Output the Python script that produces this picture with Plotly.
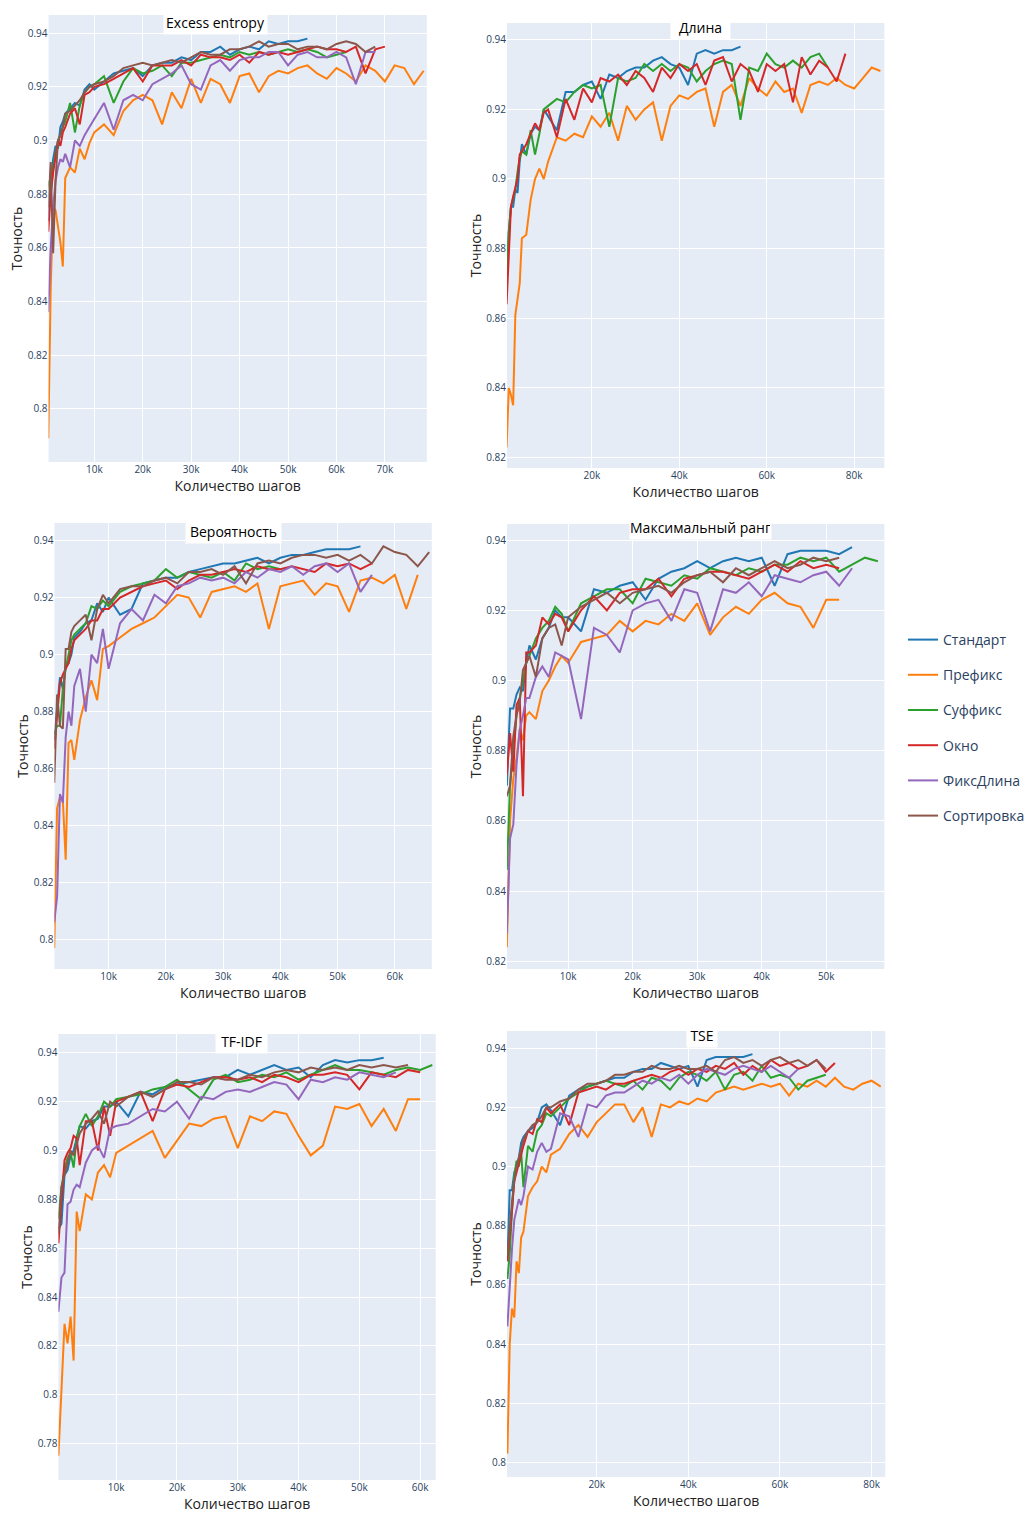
import plotly.graph_objects as go

W, H = 1030, 1515

STEPS = [500, 1000, 1500, 2000, 2500, 3000, 3500, 4000, 5000, 6000, 7000, 8000, 9000, 10000,
         12000, 14000, 16000, 18000, 20000, 22000, 24000, 26000, 28000, 30000,
         32000, 34000, 36000, 38000, 40000, 42000, 44000, 46000, 48000, 50000,
         52000, 54000, 56000, 58000, 60000, 62000, 64000, 66000, 68000, 70000,
         72000, 74000, 76000, 78000, 80000, 82000, 84000, 86000]

SERIES = ["Стандарт", "Префикс", "Суффикс", "Окно", "ФиксДлина", "Сортировка"]
COLORS = ["#1f77b4", "#ff7f0e", "#2ca02c", "#d62728", "#9467bd", "#8c564b"]

PANEL_TITLES = ["Excess entropy", "Длина", "Вероятность", "Максимальный ранг", "TF-IDF", "TSE"]
X_TITLE = "Количество шагов"
Y_TITLE = "Точность"

# ---------------- Excess entropy ----------------
EE_STD = [0.870, 0.885, 0.893, 0.898, 0.897, 0.905, 0.907, 0.910, 0.912, 0.914, 0.913, 0.919, 0.921, 0.919,
          0.922, 0.925, 0.926, 0.927, 0.924, 0.928, 0.929, 0.929, 0.931, 0.930, 0.933, 0.933, 0.935, 0.932,
          0.934, 0.935, 0.934, 0.937, 0.936, 0.937, 0.937, 0.938]
EE_PRE = [0.789, 0.845, 0.875, 0.874, 0.868, 0.862, 0.853, 0.886, 0.890, 0.888, 0.897, 0.893, 0.899, 0.903,
          0.906, 0.902, 0.911, 0.915, 0.917, 0.915, 0.906, 0.918, 0.912, 0.923, 0.914, 0.923, 0.921, 0.914,
          0.924, 0.925, 0.918, 0.924, 0.926, 0.925, 0.927, 0.928, 0.925, 0.923, 0.927, 0.925, 0.922, 0.928,
          0.926, 0.922, 0.928, 0.927, 0.921, 0.926]
EE_SUF = [0.885, 0.880, 0.890, 0.895, 0.900, 0.902, 0.905, 0.907, 0.914, 0.903, 0.913, 0.918, 0.920, 0.921,
          0.924, 0.914, 0.922, 0.927, 0.925, 0.926, 0.928, 0.924, 0.929, 0.929, 0.930, 0.931, 0.932, 0.931,
          0.933, 0.932, 0.933, 0.932, 0.933, 0.934, 0.933, 0.934, 0.933, 0.931, 0.932, 0.933]
EE_WIN = [0.866, 0.880, 0.888, 0.895, 0.900, 0.898, 0.903, 0.905, 0.910, 0.912, 0.906, 0.917, 0.918, 0.920,
          0.921, 0.923, 0.925, 0.927, 0.922, 0.928, 0.928, 0.928, 0.930, 0.928, 0.932, 0.931, 0.931, 0.930,
          0.932, 0.929, 0.933, 0.932, 0.933, 0.932, 0.933, 0.934, 0.935, 0.934, 0.934, 0.933, 0.935, 0.925,
          0.934, 0.935]
EE_FIX = [0.836, 0.860, 0.875, 0.885, 0.890, 0.893, 0.892, 0.895, 0.890, 0.900, 0.898, 0.902, 0.905, 0.908,
          0.914, 0.904, 0.915, 0.917, 0.915, 0.921, 0.923, 0.925, 0.928, 0.921, 0.919, 0.928, 0.930, 0.926,
          0.930, 0.931, 0.931, 0.933, 0.933, 0.928, 0.932, 0.933, 0.931, 0.931, 0.933, 0.931, 0.921, 0.933,
          0.933]
EE_SORT = [0.875, 0.892, 0.858, 0.885, 0.900, 0.902, 0.905, 0.910, 0.911, 0.913, 0.915, 0.918, 0.920, 0.921,
           0.922, 0.924, 0.927, 0.928, 0.929, 0.928, 0.929, 0.930, 0.929, 0.931, 0.933, 0.932, 0.932, 0.934,
           0.934, 0.935, 0.937, 0.935, 0.936, 0.936, 0.934, 0.935, 0.935, 0.934, 0.936, 0.937, 0.936, 0.933,
           0.935]

# ---------------- Длина ----------------
LEN_STD = [0.868, 0.885, 0.892, 0.892, 0.897, 0.896, 0.905, 0.910, 0.907, 0.913, 0.915, 0.914, 0.920, 0.918,
           0.914, 0.925, 0.925, 0.927, 0.928, 0.923, 0.930, 0.929, 0.931, 0.932, 0.932, 0.934, 0.935, 0.933,
           0.932, 0.927, 0.936, 0.937, 0.936, 0.937, 0.937, 0.938]
LEN_PRE = [0.823, 0.840, 0.838, 0.835, 0.861, 0.865, 0.870, 0.883, 0.884, 0.894, 0.900, 0.903, 0.900, 0.905,
           0.912, 0.911, 0.913, 0.912, 0.918, 0.915, 0.919, 0.911, 0.921, 0.917, 0.920, 0.922, 0.911, 0.921,
           0.924, 0.923, 0.925, 0.926, 0.915, 0.925, 0.927, 0.921, 0.929, 0.926, 0.924, 0.928, 0.925, 0.926,
           0.919, 0.927, 0.928, 0.927, 0.929, 0.927, 0.926, 0.929, 0.932, 0.931]
LEN_SUF = [0.872, 0.885, 0.892, 0.895, 0.897, 0.902, 0.906, 0.908, 0.907, 0.914, 0.907, 0.913, 0.920, 0.921,
           0.923, 0.922, 0.925, 0.927, 0.926, 0.927, 0.915, 0.929, 0.928, 0.929, 0.933, 0.931, 0.933, 0.931,
           0.933, 0.932, 0.928, 0.931, 0.933, 0.934, 0.933, 0.917, 0.932, 0.931, 0.936, 0.933, 0.932, 0.934,
           0.932, 0.935, 0.936, 0.932]
LEN_WIN = [0.864, 0.880, 0.892, 0.895, 0.898, 0.900, 0.907, 0.908, 0.910, 0.913, 0.916, 0.914, 0.919, 0.920,
           0.912, 0.923, 0.917, 0.926, 0.922, 0.929, 0.928, 0.930, 0.927, 0.931, 0.929, 0.925, 0.932, 0.929,
           0.933, 0.931, 0.933, 0.927, 0.934, 0.935, 0.928, 0.933, 0.931, 0.925, 0.933, 0.931, 0.933, 0.922,
           0.935, 0.930, 0.934, 0.932, 0.928, 0.936]

# ---------------- Вероятность ----------------
PROB_STD = [0.870, 0.880, 0.892, 0.888, 0.896, 0.897, 0.900, 0.906, 0.908, 0.911, 0.912, 0.918, 0.915, 0.920,
            0.914, 0.916, 0.925, 0.926, 0.927, 0.927, 0.929, 0.930, 0.931, 0.932, 0.932, 0.933, 0.934, 0.932,
            0.934, 0.935, 0.935, 0.936, 0.937, 0.937, 0.937, 0.938]
PROB_PRE = [0.797, 0.846, 0.850, 0.849, 0.828, 0.869, 0.870, 0.863, 0.877, 0.885, 0.891, 0.884, 0.902, 0.903,
            0.906, 0.909, 0.911, 0.913, 0.917, 0.921, 0.920, 0.913, 0.922, 0.923, 0.924, 0.922, 0.925, 0.909,
            0.924, 0.925, 0.926, 0.921, 0.925, 0.924, 0.915, 0.926, 0.927, 0.925, 0.928, 0.916, 0.928]
PROB_SUF = [0.872, 0.875, 0.875, 0.888, 0.895, 0.900, 0.905, 0.907, 0.909, 0.911, 0.917, 0.916, 0.919, 0.917,
            0.922, 0.924, 0.925, 0.926, 0.930, 0.927, 0.929, 0.928, 0.927, 0.929, 0.926, 0.932, 0.930, 0.931,
            0.930]
PROB_WIN = [0.867, 0.880, 0.890, 0.893, 0.895, 0.897, 0.902, 0.905, 0.907, 0.909, 0.912, 0.912, 0.916, 0.916,
            0.920, 0.922, 0.924, 0.925, 0.926, 0.923, 0.926, 0.928, 0.928, 0.929, 0.930, 0.929, 0.931, 0.930,
            0.930, 0.931, 0.930, 0.929, 0.932, 0.931, 0.932, 0.930, 0.932]
PROB_FIX = [0.806, 0.815, 0.851, 0.848, 0.871, 0.880, 0.875, 0.889, 0.895, 0.880, 0.900, 0.897, 0.909, 0.895,
            0.911, 0.916, 0.912, 0.921, 0.918, 0.924, 0.925, 0.927, 0.926, 0.927, 0.925, 0.929, 0.927, 0.930,
            0.929, 0.931, 0.928, 0.931, 0.932, 0.929, 0.932, 0.922, 0.928]
PROB_SORT = [0.855, 0.886, 0.875, 0.874, 0.902, 0.902, 0.908, 0.910, 0.912, 0.914, 0.905, 0.916, 0.921, 0.918,
             0.923, 0.924, 0.924, 0.926, 0.927, 0.925, 0.929, 0.929, 0.930, 0.928, 0.931, 0.925, 0.932, 0.933,
             0.932, 0.934, 0.935, 0.935, 0.934, 0.935, 0.933, 0.935, 0.932, 0.938, 0.936, 0.935, 0.931, 0.936]

# ---------------- Максимальный ранг ----------------
RANK_STD = [0.870, 0.892, 0.892, 0.896, 0.898, 0.897, 0.905, 0.910, 0.906, 0.912, 0.915, 0.920, 0.918, 0.918,
            0.914, 0.926, 0.925, 0.927, 0.928, 0.923, 0.929, 0.931, 0.932, 0.934, 0.932, 0.934, 0.935, 0.934,
            0.935, 0.927, 0.936, 0.937, 0.937, 0.937, 0.936, 0.938]
RANK_PRE = [0.824, 0.860, 0.872, 0.878, 0.886, 0.883, 0.890, 0.891, 0.889, 0.897, 0.900, 0.904, 0.907, 0.905,
            0.911, 0.912, 0.913, 0.917, 0.914, 0.917, 0.916, 0.919, 0.917, 0.922, 0.913, 0.918, 0.921, 0.919,
            0.923, 0.925, 0.922, 0.921, 0.915, 0.923, 0.923]
RANK_SUF = [0.846, 0.870, 0.880, 0.890, 0.895, 0.900, 0.905, 0.907, 0.912, 0.915, 0.917, 0.921, 0.919, 0.914,
            0.922, 0.924, 0.926, 0.926, 0.922, 0.929, 0.928, 0.927, 0.930, 0.929, 0.932, 0.931, 0.930, 0.932,
            0.931, 0.933, 0.933, 0.935, 0.934, 0.935, 0.931, 0.933, 0.935, 0.934]
RANK_WIN = [0.873, 0.885, 0.874, 0.893, 0.895, 0.867, 0.908, 0.908, 0.910, 0.918, 0.916, 0.919, 0.918, 0.914,
            0.920, 0.924, 0.920, 0.925, 0.926, 0.926, 0.929, 0.924, 0.929, 0.930, 0.931, 0.931, 0.930, 0.929,
            0.931, 0.933, 0.931, 0.934, 0.932, 0.933, 0.932]
RANK_FIX = [0.828, 0.855, 0.859, 0.876, 0.886, 0.890, 0.895, 0.895, 0.901, 0.904, 0.901, 0.908, 0.907, 0.906,
            0.889, 0.915, 0.913, 0.908, 0.920, 0.922, 0.923, 0.917, 0.926, 0.925, 0.914, 0.926, 0.925, 0.928,
            0.924, 0.930, 0.929, 0.928, 0.930, 0.931, 0.927, 0.932]
RANK_SORT = [0.867, 0.870, 0.884, 0.890, 0.894, 0.903, 0.905, 0.907, 0.901, 0.912, 0.915, 0.916, 0.910, 0.918,
             0.921, 0.923, 0.925, 0.922, 0.925, 0.926, 0.927, 0.925, 0.928, 0.930, 0.931, 0.928, 0.932, 0.930,
             0.932, 0.934, 0.932, 0.933, 0.935, 0.934, 0.935]

# ---------------- TF-IDF ----------------
TFIDF_STD = [0.868, 0.870, 0.890, 0.892, 0.898, 0.900, 0.905, 0.910, 0.909, 0.912, 0.913, 0.918, 0.918, 0.920,
             0.914, 0.924, 0.923, 0.926, 0.927, 0.928, 0.929, 0.930, 0.930, 0.933, 0.931, 0.933, 0.935, 0.933,
             0.934, 0.930, 0.935, 0.937, 0.936, 0.937, 0.937, 0.938]
TFIDF_PRE = [0.775, 0.800, 0.829, 0.821, 0.832, 0.814, 0.875, 0.867, 0.882, 0.880, 0.891, 0.894, 0.889, 0.899,
             0.902, 0.905, 0.908, 0.897, 0.904, 0.911, 0.910, 0.913, 0.914, 0.901, 0.914, 0.912, 0.916, 0.915,
             0.906, 0.898, 0.902, 0.918, 0.917, 0.919, 0.910, 0.917, 0.908, 0.921, 0.921]
TFIDF_SUF = [0.872, 0.885, 0.892, 0.897, 0.899, 0.893, 0.905, 0.910, 0.915, 0.910, 0.914, 0.920, 0.918, 0.921,
             0.922, 0.923, 0.925, 0.926, 0.929, 0.925, 0.921, 0.929, 0.931, 0.928, 0.929, 0.931, 0.930, 0.932,
             0.929, 0.931, 0.933, 0.935, 0.933, 0.933, 0.932, 0.931, 0.933, 0.934, 0.933, 0.935]
TFIDF_WIN = [0.862, 0.880, 0.896, 0.899, 0.901, 0.906, 0.905, 0.894, 0.912, 0.912, 0.900, 0.918, 0.906, 0.920,
             0.922, 0.924, 0.912, 0.925, 0.927, 0.926, 0.928, 0.930, 0.930, 0.929, 0.930, 0.928, 0.931, 0.930,
             0.928, 0.931, 0.931, 0.932, 0.931, 0.925, 0.932, 0.931, 0.930, 0.933, 0.932]
TFIDF_FIX = [0.834, 0.848, 0.850, 0.878, 0.879, 0.884, 0.886, 0.885, 0.895, 0.900, 0.902, 0.897, 0.909, 0.910,
             0.911, 0.914, 0.917, 0.916, 0.920, 0.913, 0.922, 0.921, 0.924, 0.925, 0.924, 0.926, 0.928, 0.927,
             0.921, 0.929, 0.928, 0.930, 0.929, 0.932, 0.931, 0.930, 0.932]
TFIDF_SORT = [0.866, 0.885, 0.890, 0.895, 0.900, 0.898, 0.903, 0.907, 0.911, 0.913, 0.916, 0.911, 0.920, 0.918,
              0.922, 0.924, 0.922, 0.925, 0.928, 0.928, 0.927, 0.930, 0.929, 0.929, 0.931, 0.930, 0.932, 0.933,
              0.932, 0.934, 0.933, 0.934, 0.933, 0.935, 0.934, 0.935, 0.934, 0.935]

# ---------------- TSE ----------------
TSE_STD = [0.868, 0.892, 0.892, 0.898, 0.900, 0.903, 0.908, 0.910, 0.912, 0.913, 0.915, 0.920, 0.921, 0.919,
           0.914, 0.924, 0.926, 0.927, 0.928, 0.929, 0.930, 0.930, 0.932, 0.933, 0.933, 0.935, 0.934, 0.933,
           0.934, 0.927, 0.936, 0.937, 0.937, 0.937, 0.937, 0.938]
TSE_PRE = [0.803, 0.840, 0.852, 0.849, 0.868, 0.864, 0.876, 0.878, 0.890, 0.893, 0.895, 0.900, 0.898, 0.904,
           0.906, 0.911, 0.914, 0.910, 0.915, 0.918, 0.921, 0.921, 0.915, 0.920, 0.910, 0.921, 0.920, 0.922,
           0.921, 0.923, 0.922, 0.925, 0.926, 0.927, 0.926, 0.927, 0.928, 0.927, 0.928, 0.924, 0.928, 0.927,
           0.929, 0.927, 0.930, 0.927, 0.926, 0.928, 0.929, 0.927]
TSE_SUF = [0.862, 0.870, 0.885, 0.897, 0.902, 0.900, 0.905, 0.893, 0.907, 0.905, 0.912, 0.914, 0.918, 0.917,
           0.920, 0.923, 0.925, 0.927, 0.928, 0.929, 0.928, 0.927, 0.929, 0.926, 0.930, 0.929, 0.926, 0.930,
           0.932, 0.931, 0.929, 0.932, 0.926, 0.931, 0.932, 0.929, 0.934, 0.930, 0.931, 0.930, 0.926, 0.929,
           0.930, 0.931]
TSE_WIN = [0.868, 0.876, 0.885, 0.895, 0.898, 0.902, 0.905, 0.907, 0.912, 0.911, 0.916, 0.915, 0.920, 0.918,
           0.921, 0.914, 0.925, 0.926, 0.927, 0.926, 0.928, 0.928, 0.929, 0.930, 0.931, 0.930, 0.932, 0.933,
           0.931, 0.933, 0.932, 0.934, 0.933, 0.935, 0.931, 0.934, 0.932, 0.936, 0.934, 0.935, 0.933, 0.934,
           0.936, 0.932, 0.935]
TSE_FIX = [0.846, 0.860, 0.872, 0.882, 0.885, 0.889, 0.887, 0.890, 0.900, 0.899, 0.905, 0.908, 0.905, 0.906,
           0.918, 0.917, 0.910, 0.921, 0.920, 0.924, 0.925, 0.925, 0.927, 0.929, 0.928, 0.930, 0.929, 0.931,
           0.928, 0.931, 0.933, 0.932, 0.931, 0.933, 0.934, 0.933, 0.932, 0.934, 0.932, 0.930, 0.933]
TSE_SORT = [0.870, 0.880, 0.888, 0.895, 0.900, 0.903, 0.906, 0.909, 0.912, 0.914, 0.915, 0.917, 0.920, 0.920,
            0.922, 0.923, 0.926, 0.928, 0.928, 0.929, 0.931, 0.931, 0.932, 0.932, 0.934, 0.933, 0.933, 0.934,
            0.933, 0.933, 0.934, 0.932, 0.936, 0.937, 0.935, 0.936, 0.934, 0.936, 0.937, 0.935, 0.936, 0.934,
            0.936, 0.933]

PANELS = [
    [EE_STD, EE_PRE, EE_SUF, EE_WIN, EE_FIX, EE_SORT],
    [LEN_STD, LEN_PRE, LEN_SUF, LEN_WIN, None, None],
    [PROB_STD, PROB_PRE, PROB_SUF, PROB_WIN, PROB_FIX, PROB_SORT],
    [RANK_STD, RANK_PRE, RANK_SUF, RANK_WIN, RANK_FIX, RANK_SORT],
    [TFIDF_STD, TFIDF_PRE, TFIDF_SUF, TFIDF_WIN, TFIDF_FIX, TFIDF_SORT],
    [TSE_STD, TSE_PRE, TSE_SUF, TSE_WIN, TSE_FIX, TSE_SORT],
]

# ---------------- layout (pixels) ----------------
BOXES = [  # left, right, top, bottom
    (49, 431, 15, 462),
    (512, 893, 23, 468),
    (55, 436, 523, 969),
    (512, 893, 524, 969),
    (59, 440, 1034, 1480),
    (512, 894, 1031, 1477),
]
XRANGES = [(550, 78650), (600, 86900), (540, 66450), (530, 59000), (500, 62560), (420, 83000)]
YRANGES = [(0.7801, 0.9468), (0.817, 0.9448), (0.7896, 0.9462), (0.8178, 0.9446), (0.7651, 0.9477), (0.7951, 0.9458)]
XDTICK = [10000, 20000, 10000, 10000, 10000, 20000]
TITLE_POS = [(218, 22.3, 101), (707, 26.7, 57), (236, 530.7, 93), (707, 527, 139), (244, 1041, 49), (709, 1035, 28)]

fig = go.Figure()
layout = {}
for p, series_list in enumerate(PANELS):
    sfx = "" if p == 0 else str(p + 1)
    for i, vals in enumerate(series_list):
        if vals is None:
            continue
        fig.add_trace(go.Scatter(
            x=STEPS[:len(vals)], y=vals, mode="lines", name=SERIES[i],
            line=dict(color=COLORS[i], width=2),
            legendgroup=SERIES[i], showlegend=(p == 0),
            xaxis="x" + sfx, yaxis="y" + sfx,
        ))
    l, r, t, b = BOXES[p]
    layout["xaxis" + sfx] = dict(
        domain=[l / W, r / W], anchor="y" + sfx, range=list(XRANGES[p]),
        dtick=XDTICK[p], tick0=0, automargin=False,
        tickfont=dict(size=10),
        title=dict(text=X_TITLE, font=dict(size=14, color="#222"), standoff=6),
    )
    layout["yaxis" + sfx] = dict(
        domain=[1 - b / H, 1 - t / H], anchor="x" + sfx, range=list(YRANGES[p]),
        dtick=0.02, tick0=0, automargin=False,
        tickfont=dict(size=10),
        title=dict(text=Y_TITLE, font=dict(size=14, color="#222"), standoff=1),
    )

annotations = []
for p, (cx, cy, w) in enumerate(TITLE_POS):
    annotations.append(dict(
        text=PANEL_TITLES[p], x=cx / W, y=1 - cy / H, xref="paper", yref="paper",
        xanchor="center", yanchor="middle", showarrow=False, bgcolor="white",
        width=w, height=22, font=dict(size=14, color="black"),
    ))

fig.update_layout(
    **layout,
    width=W, height=H, autosize=False,
    margin=dict(l=0, r=0, t=0, b=0),
    annotations=annotations,
    legend=dict(x=912 / W, y=1 - 624 / H, xanchor="left", yanchor="top",
                font=dict(size=14), tracegroupgap=14, bgcolor="rgba(0,0,0,0)"),
    paper_bgcolor="white",
)

fig.write_html("out.html", config={"responsive": False})
